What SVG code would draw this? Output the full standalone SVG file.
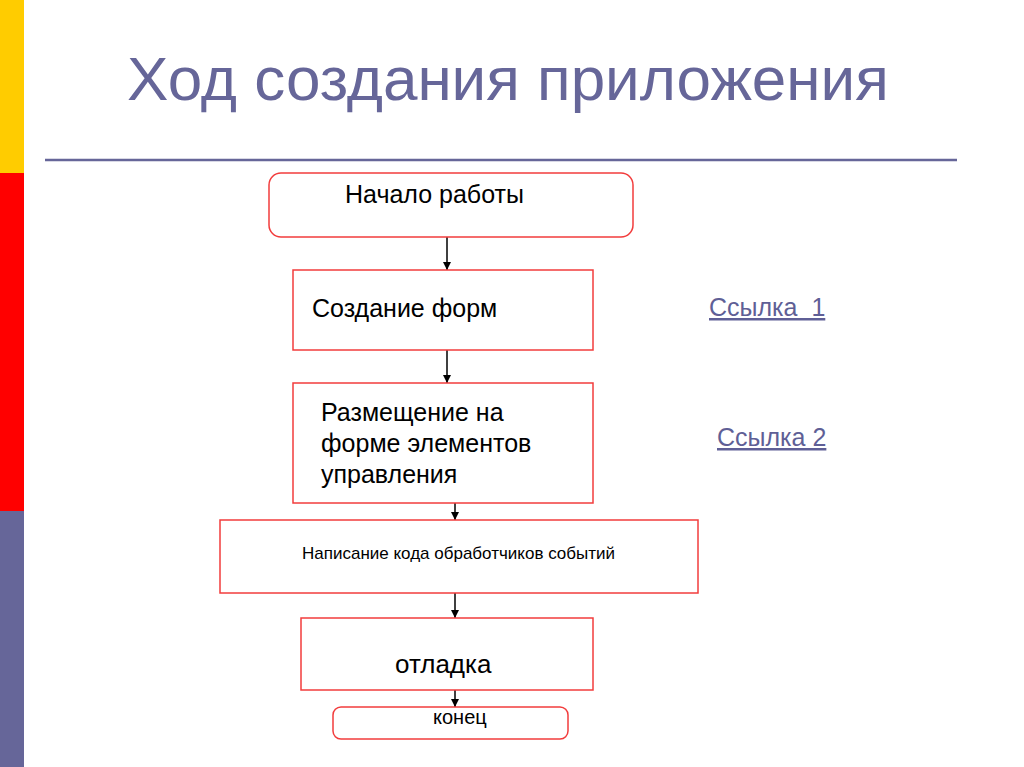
<svg xmlns="http://www.w3.org/2000/svg" width="1024" height="767" viewBox="0 0 1024 767">
<defs>
<style>
.box{fill:#fff;stroke:#f23c3c;stroke-width:1.5}
.t{font-family:"Liberation Sans",Arial,sans-serif;fill:#000}
.link{font-family:"Liberation Sans",Arial,sans-serif;fill:#5f5f96;font-size:25px;text-decoration:underline}
.conn{stroke:#000;stroke-width:1.5;fill:none;marker-end:url(#ah)}
</style>
<marker id="ah" viewBox="0 0 10 10" refX="10" refY="5" markerWidth="8" markerHeight="8" markerUnits="userSpaceOnUse" orient="auto">
<path d="M0,0 L10,5 L0,10 z" fill="#000"/>
</marker>
</defs>
<rect width="1024" height="767" fill="#fff"/>
<rect x="0" y="0" width="24" height="173" fill="#ffcc00"/>
<rect x="0" y="173" width="24" height="338" fill="#ff0000"/>
<rect x="0" y="511" width="24" height="256" fill="#666699"/>
<text x="127" y="100" font-family="Liberation Sans,Arial,sans-serif" font-size="62" fill="#666699">Ход создания приложения</text>
<line x1="45" y1="160" x2="957" y2="160" stroke="#666699" stroke-width="2.5"/>
<g id="connectors">
<line class="conn" x1="447" y1="237" x2="447" y2="270"/>
<line class="conn" x1="447" y1="350" x2="447" y2="383"/>
<line class="conn" x1="455" y1="503" x2="455" y2="520"/>
<line class="conn" x1="455" y1="593" x2="455" y2="618"/>
<line class="conn" x1="455" y1="683" x2="455" y2="707"/>
</g>
<g id="start">
<rect class="box" x="269" y="173" width="364" height="64" rx="12"/>
<text class="t" x="345" y="203" font-size="25">Начало работы</text>
</g>
<g id="forms">
<rect class="box" x="293" y="270" width="300" height="80"/>
<text class="t" x="312" y="317" font-size="25">Создание форм</text>
</g>
<g id="controls">
<rect class="box" x="293" y="383" width="300" height="120"/>
<text class="t" font-size="25"><tspan x="321" y="421">Размещение на</tspan><tspan x="321" y="452">форме элементов</tspan><tspan x="321" y="483">управления</tspan></text>
</g>
<g id="code">
<rect class="box" x="220" y="520" width="478" height="73"/>
<text class="t" x="302" y="559" font-size="17">Написание кода обработчиков событий</text>
</g>
<g id="debug">
<rect class="box" x="301" y="618" width="292" height="72"/>
<text class="t" x="395" y="673" font-size="26">отладка</text>
</g>
<g id="end">
<rect class="box" x="333" y="707" width="235" height="32" rx="8"/>
<text class="t" x="433" y="724" font-size="20">конец</text>
</g>
<g id="links">
<text class="link" x="709" y="316" xml:space="preserve">Ссылка  1</text>
<text class="link" x="717" y="446">Ссылка 2</text>
</g>
</svg>
